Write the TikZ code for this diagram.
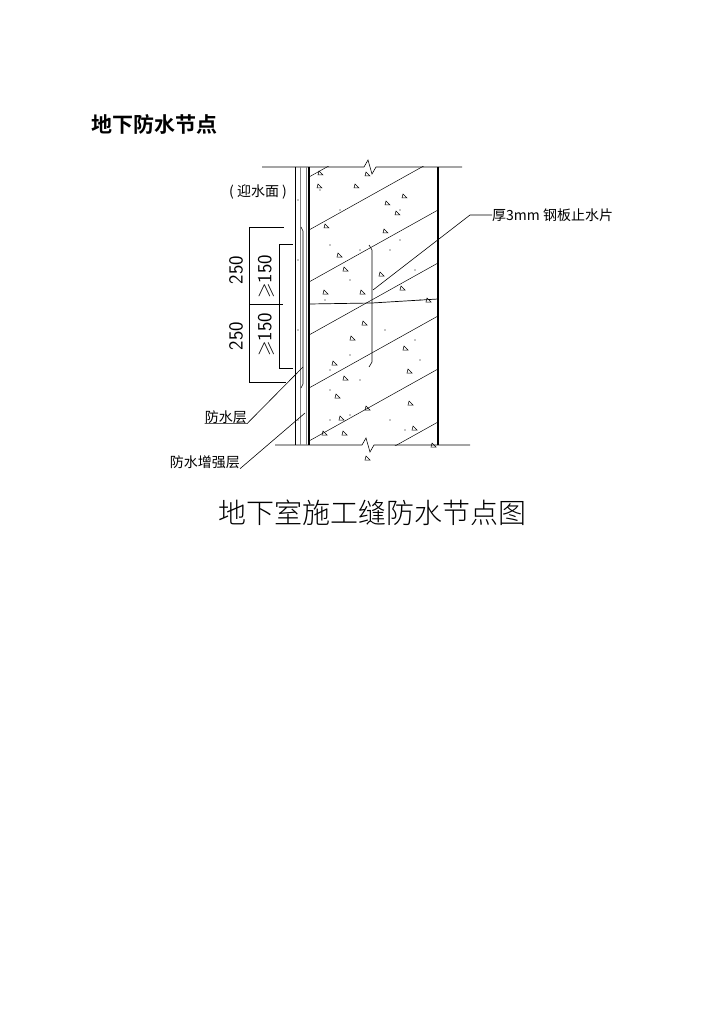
\documentclass[tikz,border=0pt]{standalone}
\usepackage{amssymb}
\usepackage{fontspec}
\newfontfamily\cjk{Noto Sans CJK SC}
\newfontfamily\cjkb{Noto Sans CJK SC Bold}
\newfontfamily\cjkl{Noto Sans CJK SC Light}
\begin{document}
\begin{tikzpicture}[x=1pt,y=-1pt,
  thin line/.style={line width=0.6pt},
  wall/.style={line width=1.3pt},
  lbl/.style={font=\cjk\fontsize{14}{14}\selectfont, inner sep=0pt},
  dim/.style={font=\fontsize{20}{20}\selectfont\sffamily, inner sep=0pt, rotate=90},
  tri/.style={line width=0.5pt}]
\useasboundingbox (0,0) rectangle (724,1024);
\node[font=\cjkb\fontsize{21}{21}\selectfont, anchor=west] (title) at (88,124) {地下防水节点};
% top and bottom lines with break marks
\draw[thin line] (262,167) -- (364,167) -- (368,160) -- (372,174) -- (376,167) -- (462,167);
\draw[thin line] (275,445) -- (362,445) -- (366,438) -- (370,452) -- (374,445) -- (470,445);
% layers
\draw[line width=0.5pt] (295,167) -- (295,445);
\draw[line width=0.8pt, gray] (300,167) -- (300,445);
\draw[line width=0.8pt, gray] (306,167) -- (306,445);
\draw[wall] (309,167) -- (309,445);
\draw[wall] (438,167) -- (438,445);
% enhancement layer
\draw[line width=0.6pt] (301,227) -- (303,231) -- (303,384) -- (301,388);
% hatch
\begin{scope}
\clip (309,167) rectangle (438,445);
\foreach \y in {177,230,282,335,388,441,494} \draw[line width=0.5pt] (309,\y) -- (438,\y-72);
\end{scope}
% dots and triangles
\foreach \x/\y in {318/175, 365/176, 317/188, 354/188, 402/198, 395/215, 324/228, 383/233, 337/257, 323/294, 343/271, 379/276, 360/294, 400/290, 362/325, 350/340, 403/350, 332/365, 343/380, 407/373, 335/398, 365/410, 339/420, 412/430, 322/435, 431/447, 365/460, 342/435, 408/405, 385/205, 426/302}
  \draw[tri] (\x,\y) -- ++(5,0) -- ++(-4,-4) -- cycle;
\foreach \x/\y in {320/190, 340/210, 330/245, 390/250, 350/280, 400/240, 420/300, 415/340, 330/370, 360/380, 390/420, 330/420, 405/430, 350/415, 420/360, 325/300, 385/330, 415/270, 330/390, 360/250, 400/210, 350/355, 298/200, 298/260, 298/330, 298/420}
  \fill (\x,\y) circle (0.6);
% joint
\draw[line width=0.7pt] (309,304) -- (372,303) -- (438,299);
% steel plate
\draw[line width=0.6pt] (369,245) -- (372,250) -- (372,362) -- (369,367);
% dimensions
\draw[thin line] (249,227) -- (249,382);
\draw[thin line] (249,227) -- (284,227);
\draw[thin line] (249,382) -- (286,382);
\draw[thin line] (249,304) -- (283,304);
\draw[thin line] (279,244) -- (279,368);
\draw[thin line] (279,244) -- (293,244);
\draw[thin line] (279,368) -- (293,368);
\node[dim] (d1) at (236,270) {250};
\node[dim] (d2) at (236,336) {250};
\node[dim] (d3) at (266,277) {$\geqslant$150};
\node[dim] (d4) at (266,335) {$\geqslant$150};
% labels
\node[lbl] (face) at (258,192) {( 迎水面 )};
\node[lbl, anchor=west] (plate) at (492,215) {厚3mm 钢板止水片};
\coordinate (pk) at (470,215);
\coordinate (pe) at (373,290);
\draw[thin line] (plate.west) -- (pk) -- (pe);
\node[lbl, anchor=east] (wl) at (247,417) {防水层};
\coordinate (wle) at (303,367);
\draw[thin line] (wl.south west) -- (wl.south east) -- (wle);
\node[lbl, anchor=east] (el) at (240,462) {防水增强层};
\coordinate (ele) at (305,413);
\draw[thin line] (el.south east) -- (ele);
\node[font=\cjkl\fontsize{28}{28}\selectfont, inner sep=0pt] (cap) at (372,513) {地下室施工缝防水节点图};
\end{tikzpicture}
\end{document}
